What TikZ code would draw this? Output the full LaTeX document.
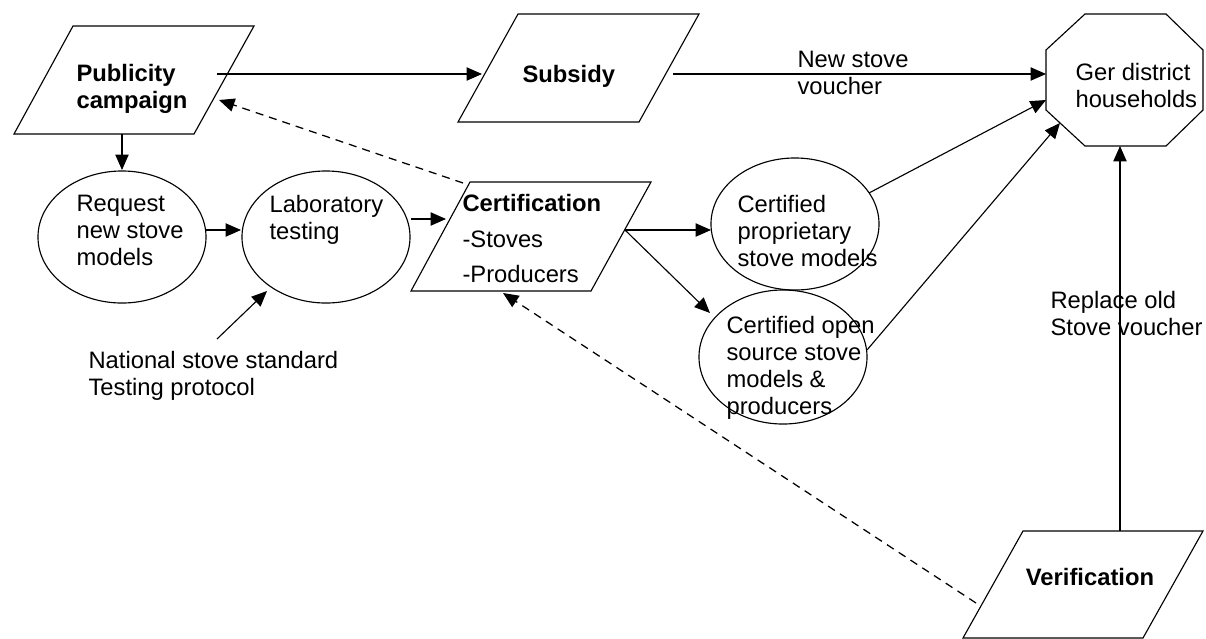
\documentclass[tikz,border=0pt]{standalone}
\usepackage{fontspec}
\setmainfont{Liberation Sans}
\usetikzlibrary{shapes.geometric,arrows.meta}
\begin{document}
\begin{tikzpicture}[x=0.025cm,y=-0.025cm,line width=0.8pt,
  txt/.style={anchor=north west,inner sep=0pt,align=left,font=\fontsize{16.9}{19.2}\selectfont},
  txtb/.style={txt,font=\fontsize{16.9}{19.2}\selectfont\bfseries},
  oval/.style={draw,ellipse,inner sep=0pt,minimum width=4.2cm,minimum height=3.3cm},
  arr/.style={-{Triangle[length=11pt,width=9.5pt]}},
  dashline/.style={arr,line width=0.9pt,dash pattern=on 5.7pt off 4.3pt}]

\useasboundingbox (0,0) rectangle (1206,639);

\draw (14,134) -- (194,134) -- (254,26) -- (73,26) -- cycle;
\draw (458,122) -- (639,122) -- (699,14) -- (518,14) -- cycle;
\draw (411,291) -- (591,291) -- (651,182) -- (470,182) -- cycle;
\draw (963,638) -- (1143,638) -- (1203,531) -- (1023,531) -- cycle;
\draw (1085,14) -- (1166,14) -- (1203,50) -- (1203,110) -- (1166,146)
  -- (1085,146) -- (1046,110) -- (1046,50) -- cycle;

\node[oval] (req) at (122,237) {};
\node[oval] (lab) at (326,237) {};
\node[oval] (prop) at (795,224) {};
\node[oval,minimum height=3.35cm] (open) at (783,357) {};

\node[txtb] (pub) at (76,64) {Publicity\\campaign};
\node[txtb] (sub) at (522,65) {Subsidy};
\node[txt,font=\fontsize{16.9}{25.3}\selectfont] (cert) at (462,194) {\textbf{Certification}\\-Stoves\\-Producers};
\node[txtb,anchor=center] (ver) at (1090,577) {Verification};
\node[txt] (ger) at (1075,63) {Ger district\\households};
\node[txt] (reqtxt) at (76,195) {Request\\new stove\\models};
\node[txt] (labtxt) at (269,195) {Laboratory\\testing};
\node[txt] (proptxt) at (737,195) {Certified\\proprietary\\stove models};
\node[txt] (opentxt) at (726,316) {Certified open\\source stove\\models \&\\producers};
\node[txt] (voucher) at (797,51) {New stove\\voucher};
\node[txt] (std) at (88,351) {National stove standard\\Testing protocol};
\node[txt] (replace) at (1050,291) {Replace old\\Stove voucher};

\coordinate (pub_r) at (217,74);
\coordinate (sub_l) at (482,74);
\coordinate (sub_r) at (673,74);
\coordinate (ger_l) at (1046,74);
\coordinate (pub_b) at (122,134);
\coordinate (req_t) at (122,170);
\coordinate (req_r) at (206,230);
\coordinate (lab_l) at (241,230);
\coordinate (lab_r) at (411,219);
\coordinate (cert_l) at (446,219);
\coordinate (std_) at (217,339);
\coordinate (lab_b) at (267,291);
\coordinate (cert_r) at (625,230);
\coordinate (prop_l) at (711,230);
\coordinate (open_l) at (710,313);
\coordinate (prop_r) at (869,193);
\coordinate (ger_m) at (1046,100);
\coordinate (open_r) at (867,350);
\coordinate (ger_b) at (1060,123);
\coordinate (ver_t) at (1120,531);
\coordinate (ger_d) at (1120,146);
\coordinate (cert_t) at (463,183);
\coordinate (pub_d) at (219,100);
\coordinate (ver_l) at (976,603);
\coordinate (cert_b) at (503,293);

\foreach \from/\to in {pub_r/sub_l, sub_r/ger_l, pub_b/req_t, req_r/lab_l, lab_r/cert_l,
  std_/lab_b, cert_r/prop_l, cert_r/open_l, prop_r/ger_m, open_r/ger_b, ver_t/ger_d}
	\draw[arr] (\from) -- (\to);

\foreach \from/\to in {cert_t/pub_d, ver_l/cert_b}
	\draw[dashline] (\from) -- (\to);

\end{tikzpicture}
\end{document}
